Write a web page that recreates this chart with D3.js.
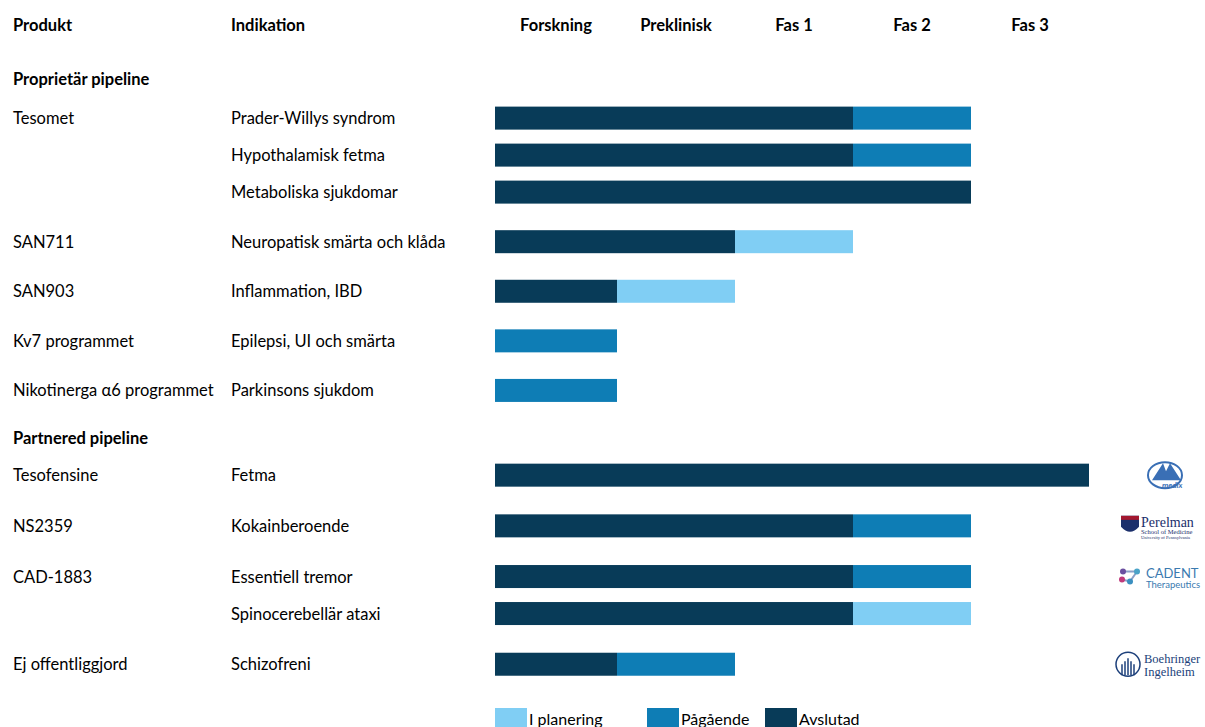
<!DOCTYPE html>
<html><head><meta charset="utf-8">
<script src="https://cdn.jsdelivr.net/npm/d3@7"></script>
<style>body{margin:0;background:#fff}svg text{font-family:Lato,"Open Sans",sans-serif;fill:#000}</style>
</head><body><svg id="c" width="1205" height="727"></svg>
<script>
const phases = ["Forskning","Preklinisk","Fas 1","Fas 2","Fas 3"];
const sections = ["Proprietär pipeline","Partnered pipeline"];
const products = ["Tesomet","Tesomet","Tesomet","SAN711","SAN903","Kv7 programmet","Nikotinerga α6 programmet","Tesofensine","NS2359","CAD-1883","CAD-1883","Ej offentliggjord"];
const sectionOf = [0,0,0,0,0,0,0,1,1,1,1,1];
const indications = ["Prader-Willys syndrom","Hypothalamisk fetma","Metaboliska sjukdomar","Neuropatisk smärta och klåda","Inflammation, IBD","Epilepsi, UI och smärta","Parkinsons sjukdom","Fetma","Kokainberoende","Essentiell tremor","Spinocerebellär ataxi","Schizofreni"];
// completed phases (Avslutad)
const completed = [3,3,4,2,1,0,0,5,3,3,3,1];
// ongoing phases (Pågående)
const ongoing = [1,1,0,0,0,1,1,0,1,1,0,1];
// planned phases (I planering)
const planned = [0,0,0,1,1,0,0,0,0,0,1,0];
const statuses = ["I planering","Pågående","Avslutad"];
const partners = {7:"medix",8:"perelman",9:"cadent",11:"boehringer"};

const colors = {"Avslutad":"#083b58","Pågående":"#0e7db5","I planering":"#80cef4"};
const svg = d3.select("#c");
const FS = 16.5;

// vertical layout in row units
const groupGap = [1.34, 1.37];
let ys = [], secY = [], cur = 0;
products.forEach((p,i)=>{
  if(i===0 || sectionOf[i]!==sectionOf[i-1]){ cur += (i===0?0:1.32); secY.push(cur); cur += (i===0?1.03:0.97); }
  else if(p!==products[i-1]) cur += groupGap[sectionOf[i]];
  else cur += 1.0;
  ys.push(cur);
});
const y = d3.scaleLinear().domain([0,1]).range([80,117]);
const x = d3.scaleLinear().domain([0,1,5]).range([495,617,1089]);
const bh = 23;

// headers
const hdr = (t,xx,anchor)=>svg.append("text").attr("x",xx).attr("y",31).attr("text-anchor",anchor||"start").attr("font-weight","bold").attr("font-size",FS).text(t);
hdr("Produkt",13); hdr("Indikation",231);
phases.forEach((d,i)=>hdr(d,x(i+0.5),"middle"));

svg.selectAll(".sec").data(sections).join("text").attr("x",13).attr("y",(d,i)=>y(secY[i])+5).attr("font-weight","bold").attr("font-size",FS).text(d=>d);

products.forEach((p,i)=>{
  const cy = y(ys[i]);
  if(i===0 || p!==products[i-1])
    svg.append("text").attr("x",13).attr("y",cy+6).attr("font-size",FS).text(p);
  svg.append("text").attr("x",231).attr("y",cy+6).attr("font-size",FS).text(indications[i]);
  const segs = [["Avslutad",0,completed[i]],["Pågående",completed[i],completed[i]+ongoing[i]],["I planering",completed[i]+ongoing[i],completed[i]+ongoing[i]+planned[i]]];
  segs.forEach(([s,a,b])=>{ if(b>a) svg.append("rect").attr("x",x(a)).attr("width",x(b)-x(a)).attr("y",cy-bh/2).attr("height",bh).attr("fill",colors[s]); });
});

// legend
const lx = d3.scaleOrdinal().domain(statuses).range([495,647,765]);
statuses.forEach(s=>{
  svg.append("rect").attr("x",lx(s)).attr("y",708).attr("width",32).attr("height",20).attr("fill",colors[s]);
  svg.append("text").attr("x",lx(s)+34).attr("y",725).attr("font-size",FS-0.5).text(s);
});

// partner logos (approximations)
const serif = "Liberation Serif,serif";
Object.entries(partners).forEach(([i,k])=>{
  const cy = y(ys[+i]), g = svg.append("g");
  if(k==="medix"){
    g.append("ellipse").attr("cx",1165).attr("cy",cy).attr("rx",17).attr("ry",13).attr("fill","none").attr("stroke","#3a6fb5").attr("stroke-width",2);
    g.append("path").attr("d",`M1152,${cy+5} L1163,${cy-12} L1166,${cy-4} L1170,${cy-12} L1181,${cy+5} Z`).attr("fill","#3a6fb5");
    g.append("text").attr("x",1162).attr("y",cy+13).attr("font-size",8).attr("font-style","italic").attr("font-weight","bold").style("fill","#3a6fb5").text("medix");
  } else if(k==="perelman"){
    g.append("path").attr("d",`M1121,${cy-10} h18 v11 q-9,10 -18,0 Z`).attr("fill","#1b2f6b");
    g.append("rect").attr("x",1121).attr("y",cy-10).attr("width",18).attr("height",4).attr("fill","#a3172f");
    g.append("text").attr("x",1141).attr("y",cy+1).attr("font-size",14).style("font-family",serif).style("fill","#1b2f6b").text("Perelman");
    g.append("text").attr("x",1141).attr("y",cy+8).attr("font-size",6.5).style("font-family",serif).style("fill","#1b2f6b").text("School of Medicine");
    g.append("text").attr("x",1141).attr("y",cy+13.5).attr("font-size",4.5).style("font-family",serif).style("fill","#1b2f6b").text("University of Pennsylvania");
  } else if(k==="cadent"){
    g.append("path").attr("d",`M1123,${cy-5} L1137,${cy-5} L1130,${cy+5} M1122,${cy+3} L1130,${cy+5}`).attr("fill","none").attr("stroke","#8aa0c8").attr("stroke-width",2);
    [[1123,cy-5,"#6a4fa0"],[1137,cy-5,"#4aa3c8"],[1130,cy+5,"#3a8fc0"],[1122,cy+3,"#c03a7b"]].forEach(([a,b,c])=>g.append("circle").attr("cx",a).attr("cy",b).attr("r",3).attr("fill",c));
    g.append("text").attr("x",1146).attr("y",cy+1).attr("font-size",13).style("fill","#3a7ab0").text("CADENT");
    g.append("text").attr("x",1146).attr("y",cy+11).attr("font-size",9.5).style("fill","#3a7ab0").text("Therapeutics");
  } else {
    g.append("circle").attr("cx",1128).attr("cy",cy).attr("r",12).attr("fill","none").attr("stroke","#1c3f7a").attr("stroke-width",1.5);
    d3.range(-6,7,3).forEach(d=>g.append("line").attr("x1",1128+d).attr("x2",1128+d).attr("y1",cy-6+Math.abs(d)).attr("y2",cy+11).attr("stroke","#1c3f7a").attr("stroke-width",1.5));
    g.append("text").attr("x",1144).attr("y",cy-1).attr("font-size",12.5).style("font-family",serif).style("fill","#1c3f7a").text("Boehringer");
    g.append("text").attr("x",1144).attr("y",cy+12).attr("font-size",12.5).style("font-family",serif).style("fill","#1c3f7a").text("Ingelheim");
  }
});
</script></body></html>
